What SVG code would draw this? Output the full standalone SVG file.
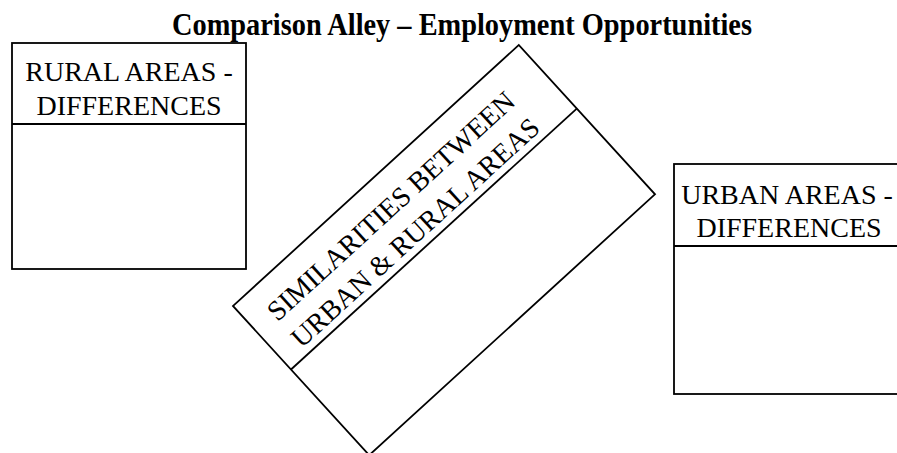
<svg xmlns="http://www.w3.org/2000/svg" width="897" height="453" viewBox="0 0 897 453">
<style>
.box{fill:#fff;stroke:#000;stroke-width:1.8}
.div{stroke:#000;stroke-width:1.8}
.lbl{font-family:"Liberation Serif","Times New Roman",serif;font-size:28px;fill:#000;text-anchor:middle}
.title{font-family:"Liberation Serif","Times New Roman",serif;font-size:31px;font-weight:bold;fill:#000}
</style>
<rect width="897" height="453" fill="#fff"/>
<text class="title" x="172" y="35" textLength="580" lengthAdjust="spacingAndGlyphs">Comparison Alley – Employment Opportunities</text>
<g id="rural">
<rect class="box" x="12" y="43" width="234" height="226"/>
<line class="div" x1="12" y1="124" x2="246" y2="124"/>
<text class="lbl" x="129" y="81">RURAL AREAS -</text>
<text class="lbl" x="129" y="115">DIFFERENCES</text>
</g>
<g id="similarities" transform="translate(233,306) rotate(-42.4)">
<rect class="box" x="0" y="0" width="387" height="202"/>
<line class="div" x1="0" y1="86" x2="387" y2="86"/>
<text class="lbl" x="184" y="42">SIMILARITIES BETWEEN</text>
<text class="lbl" x="184" y="78">URBAN &amp; RURAL AREAS</text>
</g>
<g id="urban">
<rect class="box" x="674" y="164" width="232" height="230"/>
<line class="div" x1="674" y1="246" x2="906" y2="246"/>
<text class="lbl" x="787" y="204">URBAN AREAS -</text>
<text class="lbl" x="789" y="237">DIFFERENCES</text>
</g>
<g id="connectors"/>
</svg>
